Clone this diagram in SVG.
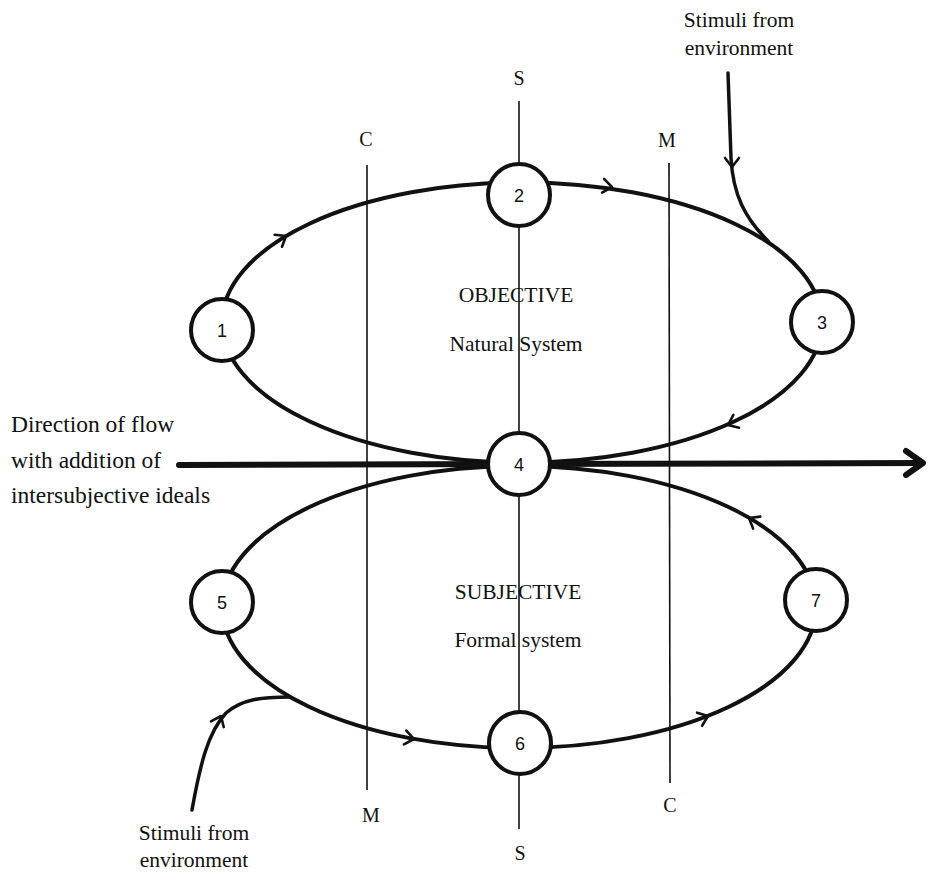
<svg xmlns="http://www.w3.org/2000/svg" xmlns:xlink="http://www.w3.org/1999/xlink" width="928" height="872" viewBox="0 0 928 872">
  <style>
    .serif { font-family: "Liberation Serif", "Times New Roman", serif; fill: #111; }
    .axis-label { font-size: 20px; text-anchor: middle; }
    .caption { font-size: 21.5px; text-anchor: middle; }
    .side { font-size: 23.5px; }
    .loop { fill: none; stroke: #111; stroke-width: 4; }
    .axis { fill: none; stroke: #111; stroke-width: 1.6; }
    .stim { fill: none; stroke: #111; stroke-width: 3.5; stroke-linecap: round; }
    .flow { fill: none; stroke: #111; stroke-width: 6; stroke-linecap: round; stroke-linejoin: round; }
    .chev { fill: none; stroke: #111; stroke-width: 2.6; stroke-linecap: round; stroke-linejoin: round; }
    .node circle { fill: #fff; stroke: #111; stroke-width: 4; }
    .node text { font-family: "Liberation Sans", Arial, sans-serif; font-size: 18px; text-anchor: middle; fill: #111; }
  </style>
  <defs>
    <!-- open chevron pointing along +x, tip at origin -->
    <path id="chev" d="M -9 -7 L 0 0 L -9 7"/>
  </defs>

  <rect width="928" height="872" fill="#fff"/>

  <!-- region captions -->
  <g id="captions" class="serif">
    <text class="caption" x="516" y="302">OBJECTIVE</text>
    <text class="caption" x="516" y="351">Natural System</text>
    <text class="caption" x="518" y="599">SUBJECTIVE</text>
    <text class="caption" x="518" y="647">Formal system</text>
    <text class="caption" x="739" y="27">Stimuli from</text>
    <text class="caption" x="739" y="55">environment</text>
    <text class="caption" x="194" y="840">Stimuli from</text>
    <text class="caption" x="194" y="867">environment</text>
    <text class="side" x="11" y="432">Direction of flow</text>
    <text class="side" x="11" y="468">with addition of</text>
    <text class="side" x="11" y="503">intersubjective ideals</text>
  </g>

  <!-- axis labels -->
  <g id="axis-labels" class="serif">
    <text class="axis-label" x="519" y="85">S</text>
    <text class="axis-label" x="366" y="146">C</text>
    <text class="axis-label" x="667" y="147">M</text>
    <text class="axis-label" x="371" y="822">M</text>
    <text class="axis-label" x="670" y="812">C</text>
    <text class="axis-label" x="520" y="860">S</text>
  </g>

  <g id="connectors">
    <!-- vertical axes -->
    <line class="axis" x1="519" y1="101" x2="519" y2="829"/>
    <line class="axis" x1="367" y1="165" x2="367" y2="790"/>
    <line class="axis" x1="669" y1="163" x2="670" y2="783"/>

    <!-- upper loop (objective / natural system) -->
    <ellipse class="loop" cx="522" cy="322.5" rx="300" ry="140"/>
    <!-- lower loop (subjective / formal system) -->
    <ellipse class="loop" cx="519" cy="607" rx="297" ry="141"/>

    <!-- flow direction markers on the loops -->
    <g class="chev">
      <use xlink:href="#chev" transform="translate(286 236) rotate(-31.7)"/>
      <use xlink:href="#chev" transform="translate(612 187) rotate(8)"/>
      <use xlink:href="#chev" transform="translate(728 425) rotate(156)"/>
      <use xlink:href="#chev" transform="translate(414 739) rotate(10)"/>
      <use xlink:href="#chev" transform="translate(708 716) rotate(-21)"/>
      <use xlink:href="#chev" transform="translate(749 518) rotate(211)"/>
      <use xlink:href="#chev" transform="translate(732 167) rotate(90)"/>
      <use xlink:href="#chev" transform="translate(221 716) rotate(-66)"/>
    </g>

    <!-- environmental stimuli entering the loops -->
    <path class="stim" d="M 728 73 L 731 158 C 733 195 745 218 768 241"/>
    <path class="stim" d="M 192 810 C 200 765 208 732 226 713 C 242 699 262 697 290 697"/>

    <!-- overall direction of flow -->
    <path class="flow" d="M 179 465 L 922 463"/>
    <path class="flow" d="M 906 451 L 923 463 L 906 475"/>
  </g>

  <g id="node-1" class="node"><circle cx="222" cy="330" r="31"/><text x="222" y="336.5">1</text></g>
  <g id="node-2" class="node"><circle cx="519" cy="195" r="31"/><text x="519" y="201.5">2</text></g>
  <g id="node-3" class="node"><circle cx="822" cy="322" r="31"/><text x="822" y="328.5">3</text></g>
  <g id="node-4" class="node"><circle cx="519" cy="464" r="31"/><text x="519" y="470.5">4</text></g>
  <g id="node-5" class="node"><circle cx="222" cy="602" r="31"/><text x="222" y="608.5">5</text></g>
  <g id="node-6" class="node"><circle cx="520" cy="743" r="31"/><text x="520" y="749.5">6</text></g>
  <g id="node-7" class="node"><circle cx="816" cy="600" r="31"/><text x="816" y="606.5">7</text></g>
</svg>
